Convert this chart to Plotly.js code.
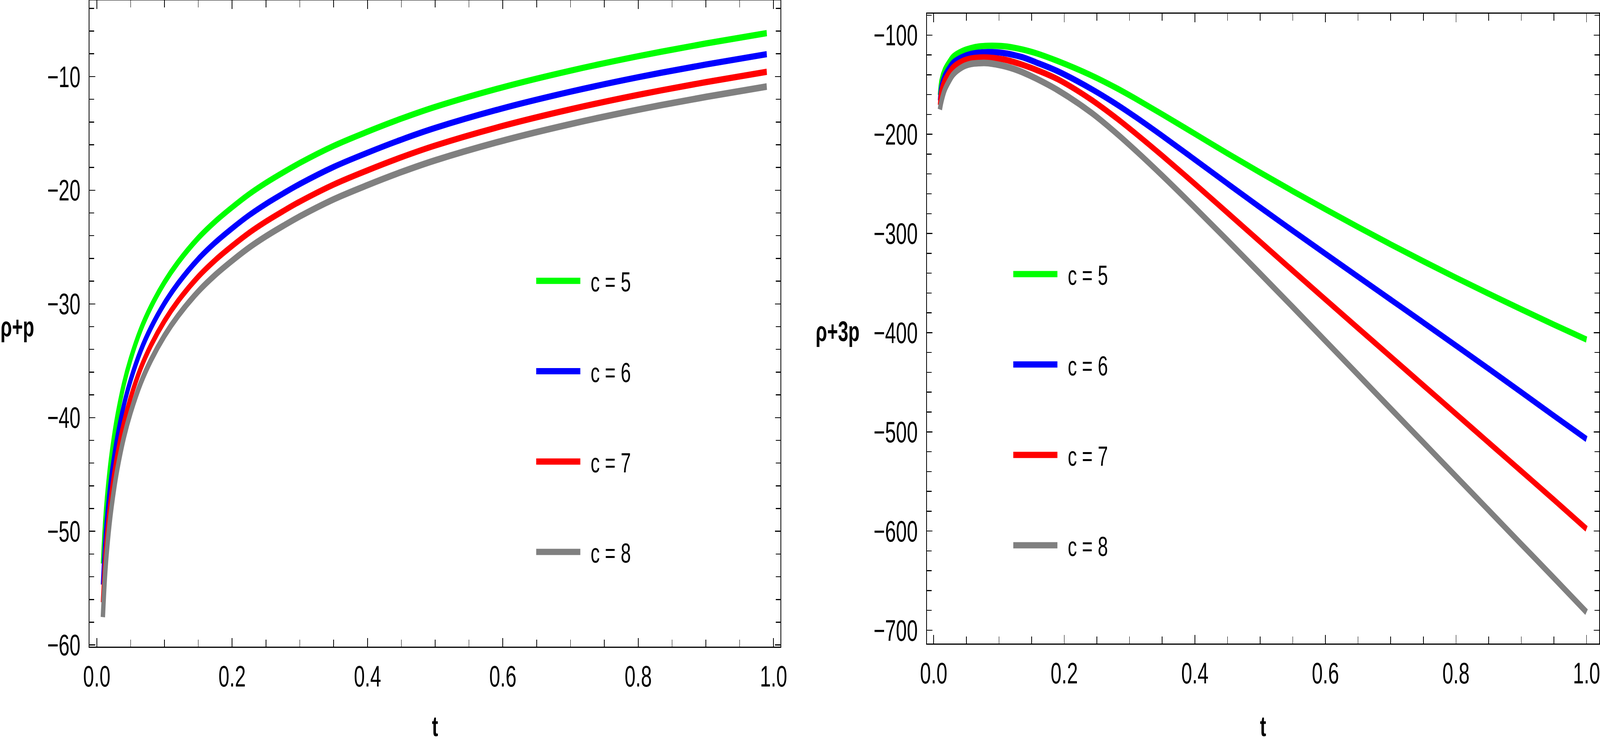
<!DOCTYPE html>
<html>
<head>
<meta charset="utf-8">
<script src="https://cdn.plot.ly/plotly-3.0.1.min.js"></script>
<style>
  html, body { margin: 0; padding: 0; background: #fff; overflow: hidden; }
  #frame { position: absolute; left: 0; top: 0; width: 100vw; height: 100vh; overflow: hidden; }
  #chart { width: 6201px; height: 1899px; transform-origin: 0 0; }
</style>
</head>
<body>
<div id="frame"><div id="chart"></div></div>
<script>
// series labels and colours (c = 5, 6, 7, 8)
var labels = ['c = 5', 'c = 6', 'c = 7', 'c = 8'];
var colors = ['#00ff00', '#0000ff', '#ff0000', '#808080'];

// left panel: rho + p against t
var tLeft = [0.009, 0.012, 0.015, 0.02, 0.025, 0.03, 0.04, 0.05, 0.065, 0.08, 0.1, 0.12,
             0.15, 0.175, 0.2, 0.225, 0.25, 0.275, 0.3, 0.35, 0.4, 0.45, 0.5, 0.6, 0.7, 0.8, 0.9, 0.99];
var rhoP5 = [-52.85, -49.4, -47.0, -44.05, -41.8, -39.95, -37.05, -34.85, -32.25, -30.25, -28.1, -26.35,
             -24.2, -22.75, -21.5, -20.35, -19.35, -18.45, -17.6, -16.1, -14.85, -13.7, -12.67, -10.94,
             -9.48, -8.21, -7.09, -6.18];
var rhoP6 = [-54.7, -51.25, -48.85, -45.9, -43.65, -41.8, -38.9, -36.7, -34.1, -32.1, -29.95, -28.2,
             -26.05, -24.6, -23.35, -22.2, -21.2, -20.3, -19.45, -17.95, -16.7, -15.55, -14.52, -12.79,
             -11.33, -10.06, -8.94, -8.03];
var rhoP7 = [-56.25, -52.8, -50.4, -47.45, -45.2, -43.35, -40.45, -38.25, -35.65, -33.65, -31.5, -29.75,
             -27.6, -26.15, -24.9, -23.75, -22.75, -21.85, -21.0, -19.5, -18.25, -17.1, -16.07, -14.34,
             -12.88, -11.61, -10.49, -9.58];
var rhoP8 = [-57.55, -54.1, -51.7, -48.75, -46.5, -44.65, -41.75, -39.55, -36.95, -34.95, -32.8, -31.05,
             -28.9, -27.45, -26.2, -25.05, -24.05, -23.15, -22.3, -20.8, -19.55, -18.4, -17.37, -15.64,
             -14.18, -12.91, -11.79, -10.88];

// right panel: rho + 3p against t
var tRight = [0.0095, 0.012, 0.017, 0.024, 0.03, 0.044, 0.057, 0.07, 0.083, 0.096, 0.11, 0.123,
              0.136, 0.157, 0.19, 0.24, 0.28, 0.31, 0.35, 0.4, 0.45, 0.5, 0.55, 0.6, 0.65, 0.7,
              0.75, 0.8, 0.85, 0.9, 0.95, 1.0];
var rho3P5 = [-160.5, -145.3, -134.8, -126.9, -121.6, -116.0, -113.1, -111.4, -110.8, -110.8, -111.4, -112.7,
              -114.5, -118.3, -126.2, -140.2, -153.4, -164.4, -179.8, -199.5, -219.3, -238.5, -257.3, -275.6,
              -293.5, -311.0, -328.0, -344.6, -360.7, -376.5, -391.9, -407.0];
var rho3P6 = [-166.0, -151.2, -140.7, -132.8, -127.6, -122.0, -119.0, -117.6, -117.1, -117.3, -118.4, -120.1,
              -122.3, -127.5, -136.4, -153.7, -169.7, -182.9, -201.5, -225.5, -249.7, -273.7, -297.2, -320.5,
              -343.6, -366.7, -389.8, -413.0, -436.4, -460.0, -483.8, -507.3];
var rho3P7 = [-170.5, -155.7, -145.3, -137.4, -132.2, -126.2, -123.6, -122.6, -122.6, -123.4, -124.9, -127.2,
              -129.9, -135.0, -144.5, -164.5, -183.7, -199.5, -221.5, -250.0, -279.1, -308.3, -337.5, -366.5,
              -395.4, -424.2, -453.1, -481.9, -510.8, -539.6, -568.5, -597.8];
var rho3P8 = [-175.0, -166.5, -155.1, -145.9, -139.6, -132.2, -129.1, -128.2, -128.2, -129.5, -131.5, -134.1,
              -137.4, -143.8, -155.5, -177.5, -199.1, -216.8, -241.6, -273.9, -306.9, -340.4, -374.2, -408.3,
              -442.4, -476.6, -510.7, -544.9, -579.0, -613.2, -647.3, -681.8];

var leftSeries = [rhoP5, rhoP6, rhoP7, rhoP8];
var rightSeries = [rho3P5, rho3P6, rho3P7, rho3P8];

var FONT = 'Liberation Sans, Arial, Helvetica, sans-serif';

// the figure is laid out at 6201x1899 and fitted to whatever window we get
var sx = window.innerWidth / 6201, sy = window.innerHeight / 1899;
document.getElementById('chart').style.transform = 'scale(' + sx + ',' + sy + ')';

var data = [];
leftSeries.forEach(function (ys, i) {
  data.push({
    x: tLeft, y: ys, name: labels[i], type: 'scatter', mode: 'lines',
    xaxis: 'x', yaxis: 'y', legend: 'legend', legendgroup: 'L' + i,
    line: {color: colors[i], width: i === 3 ? 17 : 16, shape: 'spline', smoothing: 1}
  });
});
rightSeries.forEach(function (ys, i) {
  data.push({
    x: tRight, y: ys, name: labels[i], type: 'scatter', mode: 'lines',
    xaxis: 'x2', yaxis: 'y2', legend: 'legend2', legendgroup: 'R' + i,
    line: {color: colors[i], width: i === 3 ? 17 : 16, shape: 'spline', smoothing: 1}
  });
});

function frameAxis(extra) {
  var ax = {
    showline: true, linecolor: '#000', linewidth: 3, mirror: 'allticks',
    ticks: 'inside', ticklen: 22, tickwidth: 2.5, tickcolor: '#000',
    showgrid: false, zeroline: false, ticklabeloverflow: 'allow',
    tickfont: {family: FONT, size: 76, color: '#000'}
  };
  for (var k in extra) ax[k] = extra[k];
  return ax;
}

var xMinor = {ticks: 'inside', ticklen: 18, tickwidth: 2.5, tickcolor: '#000', dtick: 0.05, showgrid: false};
var titleFont = {family: FONT, size: 72, color: '#000'};

var legendBase = {
  font: {family: FONT, size: 71, color: '#000'},
  bgcolor: 'rgba(0,0,0,0)', borderwidth: 0,
  itemwidth: 206, tracegroupgap: 136, traceorder: 'grouped',
  xanchor: 'left', yanchor: 'top'
};

var layout = {
  width: 6201, height: 1899,
  margin: {l: 0, r: 0, t: 0, b: 0},
  paper_bgcolor: '#fff', plot_bgcolor: '#fff',
  showlegend: true,
  xaxis: frameAxis({
    domain: [0.05596, 0.48782], anchor: 'y', range: [-0.0107, 1.0103],
    tick0: 0, dtick: 0.2, tickformat: '.1f', minor: xMinor, ticklabelstandoff: 8,
    title: {text: '<b>t</b>', font: titleFont, standoff: 124}
  }),
  yaxis: frameAxis({
    domain: [0.12849, 0.99947], anchor: 'x', range: [-60.15, -3.3],
    tick0: 0, dtick: 10, ticklabelstandoff: 17,
    minor: {ticks: 'inside', ticklen: 18, tickwidth: 2.5, tickcolor: '#000', dtick: 2, showgrid: false}
  }),
  xaxis2: frameAxis({
    domain: [0.57926, 0.99952], anchor: 'y2', range: [-0.0105, 1.0194],
    tick0: 0, dtick: 0.2, tickformat: '.1f', minor: xMinor, ticklabelstandoff: 8,
    title: {text: '<b>t</b>', font: titleFont, standoff: 124}
  }),
  yaxis2: frameAxis({
    domain: [0.1327, 0.98157], anchor: 'x2', range: [-713.4, -78.4],
    tick0: 0, dtick: 100, ticklabelstandoff: 17,
    minor: {ticks: 'inside', ticklen: 18, tickwidth: 2.5, tickcolor: '#000', dtick: 20, showgrid: false}
  }),
  legend: Object.assign({}, legendBase, {x: 0.33432, y: 0.6493}),
  legend2: Object.assign({}, legendBase, {x: 0.6325, y: 0.6583}),
  annotations: [
    {text: '<b>\u03c1+p</b>', xref: 'paper', yref: 'paper', x: 0, y: 0.5598,
     xanchor: 'left', yanchor: 'middle', showarrow: false, font: titleFont},
    {text: '<b>\u03c1+3p</b>', xref: 'paper', yref: 'paper', x: 3159 / 6201, y: 0.5534,
     xanchor: 'left', yanchor: 'middle', showarrow: false, font: titleFont}
  ]
};

Plotly.newPlot('chart', data, layout, {staticPlot: true, displayModeBar: false}).then(function (gd) {
  // legend keys: as thick as the curves, shorter than the item slot so the text sits further right
  gd.querySelectorAll('.legendlines path').forEach(function (p) {
    p.setAttribute('d', 'M5,0h171');
    p.style.strokeWidth = '16px';
  });
});
</script>
</body>
</html>
